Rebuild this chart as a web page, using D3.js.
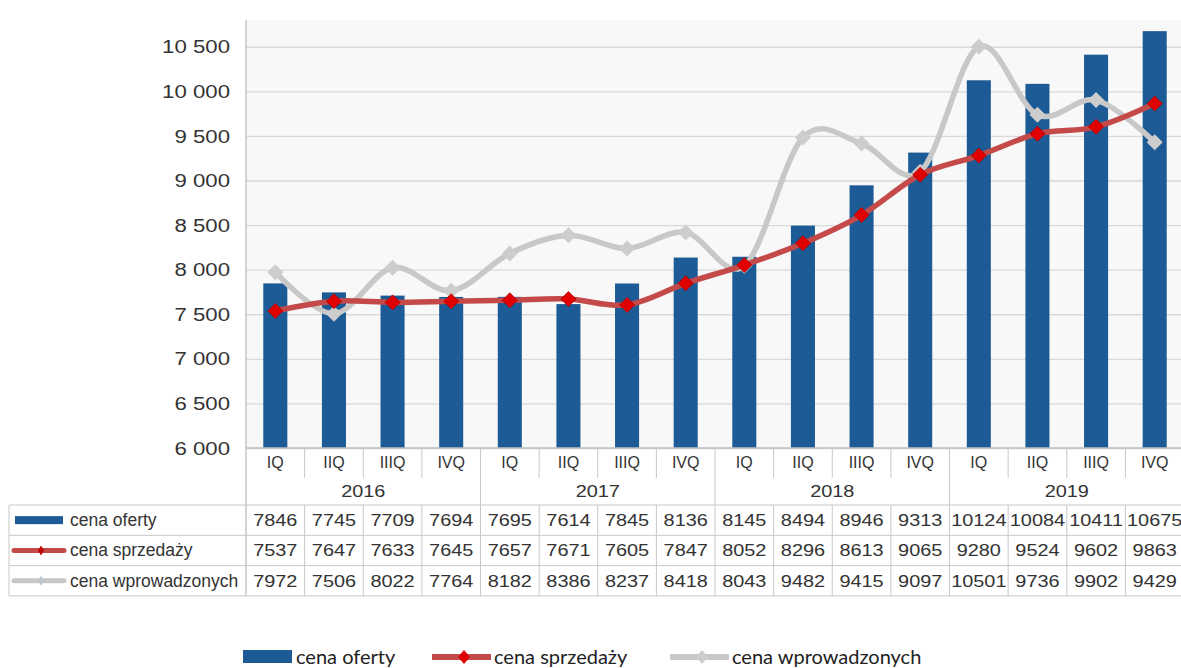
<!DOCTYPE html>
<html>
<head>
<meta charset="utf-8">
<script src="https://cdn.jsdelivr.net/npm/d3@7"></script>
<style>
  body { margin: 0; background: #fff; }
</style>
</head>
<body>
<div id="chart"></div>
<script>
var quarters = ["IQ", "IIQ", "IIIQ", "IVQ"];
var years = ["2016", "2017", "2018", "2019"];
var cenaOferty = [7846, 7745, 7709, 7694, 7695, 7614, 7845, 8136, 8145, 8494, 8946, 9313, 10124, 10084, 10411, 10675];
var cenaSprzedazy = [7537, 7647, 7633, 7645, 7657, 7671, 7605, 7847, 8052, 8296, 8613, 9065, 9280, 9524, 9602, 9863];
var cenaWprowadzonych = [7972, 7506, 8022, 7764, 8182, 8386, 8237, 8418, 8043, 9482, 9415, 9097, 10501, 9736, 9902, 9429];
var yTicks = [6000, 6500, 7000, 7500, 8000, 8500, 9000, 9500, 10000, 10500];
var seriesNames = ["cena oferty", "cena sprzedaży", "cena wprowadzonych"];

var width = 1181, height = 668,
    plotLeft = 246, plotRight = 1184, plotTop = 20, plotBottom = 448,
    tableLeft = 9, tableTop = 505, rowH = 30.3;

var svg = d3.select("#chart").append("svg")
    .attr("width", width)
    .attr("height", height)
    .attr("font-family", "Liberation Sans, Arial, sans-serif");

var cats = d3.range(cenaOferty.length);

var x = d3.scaleBand()
    .domain(cats)
    .range([plotLeft, plotRight]);

var y = d3.scaleLinear()
    .domain([6000, 10800])
    .range([plotBottom, plotTop]);

var pl = d3.formatLocale({decimal: ",", thousands: " ", grouping: [3], currency: ["", ""]});
var fmt = pl.format(",d");

// plot background
svg.append("rect")
    .attr("x", plotLeft).attr("y", plotTop)
    .attr("width", width - plotLeft).attr("height", plotBottom - plotTop)
    .attr("fill", "#f8f8f8");

// grid + y axis
var gy = svg.append("g")
    .attr("transform", "translate(" + plotLeft + ",0)")
    .call(d3.axisLeft(y).tickValues(yTicks).tickSize(-(width - plotLeft)).tickFormat(fmt).tickPadding(16));
gy.select(".domain").remove();
gy.selectAll(".tick line").attr("stroke", "#d9d9d9").attr("stroke-width", 1.3);
gy.selectAll(".tick text")
    .attr("font-size", 19)
    .attr("fill", "#333")
    .attr("font-family", "Liberation Sans, Arial, sans-serif")
    .attr("transform", "scale(1.17,1)")
    .attr("x", -16 / 1.17);

// bars
var barW = x.bandwidth() * 0.41;
svg.append("g").selectAll("rect")
    .data(cenaOferty)
    .join("rect")
    .attr("x", function(d, i) { return x(i) + (x.bandwidth() - barW) / 2; })
    .attr("y", function(d) { return y(d); })
    .attr("width", barW)
    .attr("height", function(d) { return plotBottom - y(d); })
    .attr("fill", "#1c5b95");

var line = d3.line()
    .x(function(d, i) { return x(i) + x.bandwidth() / 2; })
    .y(function(d) { return y(d); })
    .curve(d3.curveCardinal.tension(0));

function diamond(w, h) {
  return "M0," + (-h) + "L" + w + ",0L0," + h + "L" + (-w) + ",0Z";
}

// gray line
svg.append("path")
    .datum(cenaWprowadzonych)
    .attr("fill", "none")
    .attr("stroke", "#c8c8c8")
    .attr("stroke-width", 5.5)
    .attr("stroke-linejoin", "round")
    .attr("d", line);
svg.append("g").selectAll("path")
    .data(cenaWprowadzonych)
    .join("path")
    .attr("transform", function(d, i) { return "translate(" + (x(i) + x.bandwidth() / 2) + "," + y(d) + ")"; })
    .attr("d", diamond(8, 8))
    .attr("fill", "#cdcdcd");

// red line
svg.append("path")
    .datum(cenaSprzedazy)
    .attr("fill", "none")
    .attr("stroke", "#c44a4a")
    .attr("stroke-width", 5.5)
    .attr("stroke-linejoin", "round")
    .attr("d", line);
svg.append("g").selectAll("path")
    .data(cenaSprzedazy)
    .join("path")
    .attr("transform", function(d, i) { return "translate(" + (x(i) + x.bandwidth() / 2) + "," + y(d) + ")"; })
    .attr("d", diamond(7.5, 7.5))
    .attr("fill", "#e00000")
    .attr("stroke", "#b00000")
    .attr("stroke-width", 0.8);

// category axis
var axisColor = "#c8c8c8";
svg.append("line")
    .attr("x1", plotLeft).attr("x2", width)
    .attr("y1", plotBottom).attr("y2", plotBottom)
    .attr("stroke", "#bfbfbf").attr("stroke-width", 1.3);
svg.append("line")
    .attr("x1", plotLeft).attr("x2", plotLeft)
    .attr("y1", plotTop).attr("y2", tableTop + rowH * 3)
    .attr("stroke", "#bfbfbf").attr("stroke-width", 1.3);

cats.forEach(function(i) {
  if (i > 0) {
    var isYear = i % 4 === 0;
    svg.append("line")
        .attr("x1", x(i)).attr("x2", x(i))
        .attr("y1", plotBottom).attr("y2", isYear ? tableTop + rowH * 3 : 478)
        .attr("stroke", axisColor).attr("stroke-width", 1);
  }
  svg.append("text")
      .attr("x", x(i) + x.bandwidth() / 2)
      .attr("y", 468)
      .attr("text-anchor", "middle")
      .attr("font-family", "Liberation Sans Narrow, Liberation Sans, sans-serif")
      .attr("font-size", 16)
      .attr("fill", "#333")
      .text(quarters[i % 4]);
});

years.forEach(function(yr, j) {
  var cx = (x(j * 4) + x(j * 4 + 3) + x.bandwidth()) / 2;
  svg.append("text")
      .attr("transform", "translate(" + cx + ",497) scale(1.17,1)")
      .attr("text-anchor", "middle")
      .attr("font-size", 17)
      .attr("fill", "#333")
      .text(yr);
});

// data table
var rows = [cenaOferty, cenaSprzedazy, cenaWprowadzonych];
var gridColor = "#c8c8c8";
for (var r = 0; r <= 3; r++) {
  svg.append("line")
      .attr("x1", tableLeft).attr("x2", width)
      .attr("y1", tableTop + r * rowH).attr("y2", tableTop + r * rowH)
      .attr("stroke", gridColor).attr("stroke-width", 1);
}
svg.append("line")
    .attr("x1", tableLeft).attr("x2", tableLeft)
    .attr("y1", tableTop).attr("y2", tableTop + rowH * 3)
    .attr("stroke", gridColor);
cats.forEach(function(i) {
  if (i % 4 !== 0) {
    svg.append("line")
        .attr("x1", x(i)).attr("x2", x(i))
        .attr("y1", tableTop).attr("y2", tableTop + rowH * 3)
        .attr("stroke", gridColor);
  }
});

rows.forEach(function(vals, r) {
  var cy = tableTop + r * rowH + rowH / 2;
  vals.forEach(function(v, i) {
    svg.append("text")
        .attr("transform", "translate(" + (x(i) + x.bandwidth() / 2) + "," + (cy + 6) + ") scale(1.17,1)")
        .attr("text-anchor", "middle")
        .attr("font-size", 17)
        .attr("fill", "#333")
        .text(v);
  });
  // legend key in table
  var kx = 14, kw = 50;
  if (r === 0) {
    svg.append("rect").attr("x", kx + 1).attr("y", cy - 4).attr("width", kw - 2).attr("height", 8).attr("fill", "#1c5b95");
  } else {
    svg.append("line").attr("x1", kx).attr("x2", kx + kw).attr("y1", cy).attr("y2", cy)
        .attr("stroke", r === 1 ? "#c44a4a" : "#c8c8c8").attr("stroke-width", 5).attr("stroke-linecap", "round");
    svg.append("path").attr("transform", "translate(" + (kx + kw / 2 + 2) + "," + cy + ")")
        .attr("d", diamond(3, 5))
        .attr("fill", r === 1 ? "#c00000" : "#b9c6cf");
  }
  svg.append("text")
      .attr("x", 70)
      .attr("y", cy + 6)
      .attr("font-size", 17.5)
      .attr("fill", "#333")
      .text(seriesNames[r]);
});

// bottom legend
var lg = svg.append("g");
var legendX = [243, 432, 670];
seriesNames.forEach(function(name, k) {
  var lx = legendX[k], ly = 657;
  if (k === 0) {
    lg.append("rect").attr("x", lx).attr("y", ly - 7).attr("width", 49).attr("height", 13).attr("fill", "#1c5b95");
  } else {
    lg.append("line").attr("x1", lx).attr("x2", lx + 59).attr("y1", ly).attr("y2", ly)
        .attr("stroke", k === 1 ? "#c44a4a" : "#c8c8c8").attr("stroke-width", 6);
    lg.append("path").attr("transform", "translate(" + (lx + 32) + "," + ly + ")")
        .attr("d", diamond(6, 7))
        .attr("fill", k === 1 ? "#e00000" : "#cdcdcd");
  }
  lg.append("text")
      .attr("x", k === 0 ? lx + 53 : lx + 62)
      .attr("y", ly + 7)
      .attr("font-family", "Lato, sans-serif")
      .attr("font-size", 20)
      .attr("fill", "#222")
      .text(name);
});
</script>
</body>
</html>
